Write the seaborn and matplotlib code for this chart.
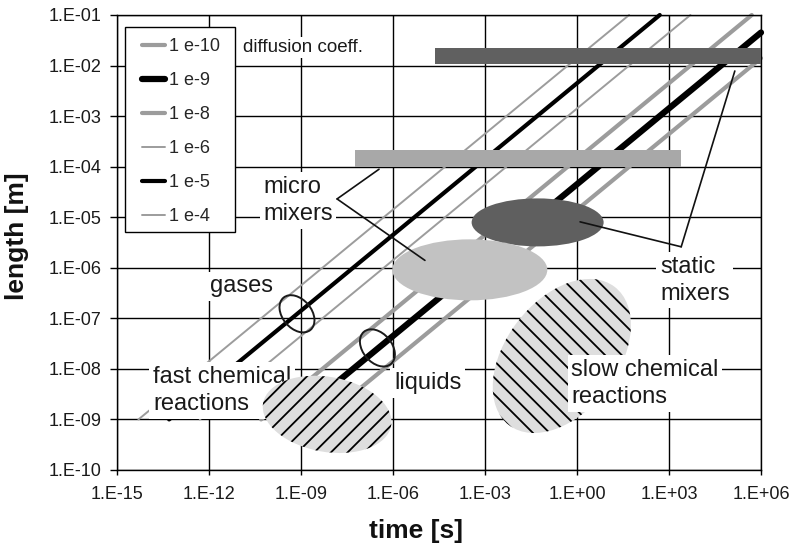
import matplotlib
matplotlib.use("Agg")
import matplotlib.pyplot as plt
import matplotlib.transforms as mtransforms
from matplotlib.patches import Ellipse, Rectangle
import seaborn as sns

sns.set_theme(style="ticks")
plt.rcParams['font.family'] = ['Liberation Sans', 'DejaVu Sans']
plt.rcParams['hatch.linewidth'] = 1.3

# diffusion lines, start / end points (time s, length m)
diff_labels = ["1 e-10", "1 e-9", "1 e-8", "1 e-6", "1 e-5", "1 e-4"]
diff_t0 = [5e-9, 5e-10, 5e-11, 5e-13, 5e-14, 5e-15]
diff_L0 = [1e-9, 1e-9, 1e-9, 1e-9, 1e-9, 1e-9]
diff_t1 = [1e6, 1e6, 5e5, 5e3, 5e2, 5e1]
diff_L1 = [1.4e-2, 4.5e-2, 1e-1, 1e-1, 1e-1, 1e-1]

# mixer length ranges (bars)
bar_t_min = [2.3e-5, 5.6e-8]
bar_t_max = [1e6, 2.5e3]
bar_L_min = [1.07e-2, 1.0e-4]
bar_L_max = [2.2e-2, 2.1e-4]

# mixer regions (filled ellipses): static, micro
mix_t = [5.2e-2, 3.2e-4]
mix_L = [7.9e-6, 9.1e-7]

# chemical reaction regions (hatched): fast, slow
chem_t = [7.1e-9, 0.32]
chem_L = [1.26e-9, 1.8e-8]

# gases / liquids markers on the diffusion lines
phase_t = [7.4e-10, 3.1e-7]
phase_L = [1.23e-7, 2.6e-8]

x_ticks = [1e-15, 1e-12, 1e-9, 1e-6, 1e-3, 1e0, 1e3, 1e6]
x_tick_labels = ["1.E-15", "1.E-12", "1.E-09", "1.E-06", "1.E-03", "1.E+00", "1.E+03", "1.E+06"]
y_ticks = [1e-10, 1e-9, 1e-8, 1e-7, 1e-6, 1e-5, 1e-4, 1e-3, 1e-2, 1e-1]
y_tick_labels = ["1.E-10", "1.E-09", "1.E-08", "1.E-07", "1.E-06",
                 "1.E-05", "1.E-04", "1.E-03", "1.E-02", "1.E-01"]

# region labels (left edge, baseline of last line)
label_text = ["micro\nmixers", "static\nmixers", "gases", "liquids",
              "fast chemical\nreactions", "slow chemical\nreactions"]
label_t = [5.8e-11, 508, 1.08e-12, 1.08e-6, 1.49e-14, 0.64]
label_L = [8.8e-6, 2.31e-7, 3.3e-7, 4.0e-9, 1.54e-9, 2.11e-9]

# leader lines: (vertex, target)
leaders = [((1.5e-8, 2.3e-5), (3.5e-7, 8.9e-5)),
           ((1.5e-8, 2.3e-5), (1.1e-5, 1.4e-6)),
           ((2.5e3, 2.6e-6), (1.26, 8.1e-6)),
           ((2.5e3, 2.6e-6), (1.4e5, 7.8e-3))]

GRAY = '#9c9c9c'
diff_colors = [GRAY, 'black', GRAY, GRAY, 'black', GRAY]
diff_widths = [3.0, 4.5, 3.0, 1.4, 3.0, 1.4]

fig = plt.figure(figsize=(7.9, 5.48), dpi=100)
ax = fig.add_axes([117 / 790, 78 / 548, 644 / 790, 455 / 548])
ax.set_xscale('log')
ax.set_yscale('log')
ax.set_xlim(1e-15, 1e6)
ax.set_ylim(1e-10, 1e-1)


def at_point(t, L):
    # sizes in inches, centred on a data point
    return fig.dpi_scale_trans + mtransforms.ScaledTranslation(t, L, ax.transData)


for i in range(len(diff_labels)):
    sns.lineplot(x=[diff_t0[i], diff_t1[i]], y=[diff_L0[i], diff_L1[i]],
                 color=diff_colors[i], linewidth=diff_widths[i],
                 solid_capstyle='round', label=diff_labels[i],
                 clip_on=False, zorder=2, legend=False, ax=ax)

bar_colors = ['#606060', '#a8a8a8']
for i in range(len(bar_t_min)):
    ax.fill_between([bar_t_min[i], bar_t_max[i]], bar_L_min[i], bar_L_max[i],
                    color=bar_colors[i], linewidth=0, zorder=3)

mix_sizes = [(1.32, 0.48), (1.55, 0.61)]
mix_colors = ['#5f5f5f', '#c2c2c2']
for i in range(len(mix_t)):
    w, h = mix_sizes[i]
    ax.add_patch(Ellipse((0, 0), w, h, facecolor=mix_colors[i], edgecolor='none',
                         transform=at_point(mix_t[i], mix_L[i]), zorder=3))

chem_sizes = [(1.30, 0.75, -10), (1.74, 1.12, 52.6)]
chem_hatch = ['//', '\\\\']
chem_z = [4.5, 3.5]
for i in range(len(chem_t)):
    w, h, a = chem_sizes[i]
    ax.add_patch(Ellipse((0, 0), w, h, angle=a, facecolor='#dedede', edgecolor='black',
                         linewidth=0, hatch=chem_hatch[i],
                         transform=at_point(chem_t[i], chem_L[i]), zorder=chem_z[i]))

for i in range(len(phase_t)):
    ax.add_patch(Ellipse((0, 0), 0.42, 0.29, angle=-50, facecolor='none',
                         edgecolor='#1a1a1a', linewidth=1.4,
                         transform=at_point(phase_t[i], phase_L[i]), zorder=5))

for i in range(len(label_text)):
    ax.text(label_t[i], label_L[i], label_text[i], fontsize=17, ha='left',
            va='baseline', color='#1a1a1a', linespacing=1.3,
            bbox=dict(facecolor='white', edgecolor='none', pad=2.5), zorder=4)

for (v, tgt) in leaders:
    ax.annotate("", xy=tgt, xytext=v,
                arrowprops=dict(arrowstyle='-', color='#111111', lw=1.2,
                                shrinkA=0, shrinkB=0), zorder=5)

ax.text((243 - 117) / 644, (470 - 52.3) / 455, "diffusion coeff.", fontsize=13.5,
        ha='left', va='baseline', transform=ax.transAxes, color='#1a1a1a',
        bbox=dict(facecolor='white', edgecolor='none', pad=1.5), zorder=4)

ax.set_xticks(x_ticks, labels=x_tick_labels)
ax.set_yticks(y_ticks, labels=y_tick_labels)
ax.minorticks_off()
ax.tick_params(axis='x', length=3.6, width=1, pad=8, labelsize=13, color='black', labelcolor='#1a1a1a')
ax.tick_params(axis='y', length=5, width=1, pad=6, labelsize=13, color='black', labelcolor='#1a1a1a')
ax.set_axisbelow(True)
ax.grid(True, which='major', color='black', linewidth=1.0)
for s in ax.spines.values():
    s.set_color('black')
    s.set_linewidth(1.0)
    s.set_visible(True)

ax.set_xlabel("time [s]", fontsize=19, fontweight='bold', color='#111111')
ax.set_ylabel("length [m]", fontsize=19, fontweight='bold', color='#111111')
ax.xaxis.set_label_coords((416 - 117) / 644, (470 - 519) / 455)
ax.yaxis.set_label_coords((29 - 117) / 644, (470 - 236.5) / 455)

# legend frame drawn separately so its size matches the original box
ax.add_patch(Rectangle((8 / 644, (470 - 232) / 455), 110 / 644, 205 / 455,
                       transform=ax.transAxes, facecolor='white', edgecolor='black',
                       linewidth=1.0, zorder=6))
leg = ax.legend(loc='upper left', bbox_to_anchor=((142 - 117) / 644, 1 - (38 - 15) / 455),
                borderaxespad=0, frameon=False, fontsize=13, handlelength=1.3,
                handletextpad=0.2, borderpad=0, labelspacing=0.94)
leg.set_zorder(7)

fig.savefig("out.png", dpi=100, facecolor='white')
